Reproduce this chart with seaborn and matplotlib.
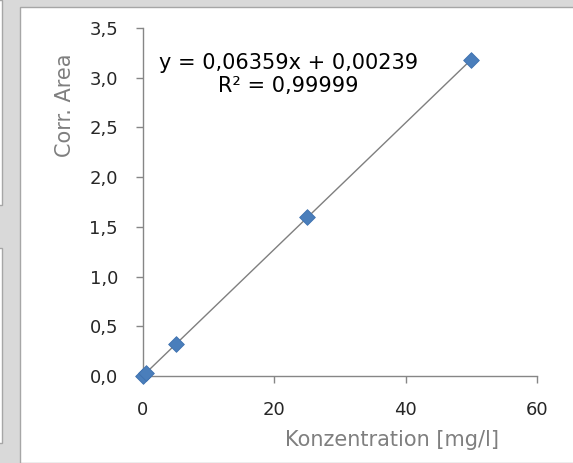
import matplotlib.pyplot as plt
import matplotlib.patches as mpatches
from matplotlib.ticker import FuncFormatter
import numpy as np
import pandas as pd
import seaborn as sns

# calibration data
konzentration = [0, 0.5, 5, 25, 50]
corr_area = [0.0, 0.034, 0.32, 1.60, 3.18]
equation = 'y = 0,06359x + 0,00239\nR² = 0,99999'
x_ticks = [0, 20, 40, 60]
y_ticks = [0.0, 0.5, 1.0, 1.5, 2.0, 2.5, 3.0, 3.5]

df = pd.DataFrame({'x': konzentration, 'y': corr_area})

sns.set_style('white')
plt.rcParams['font.family'] = ['DejaVu Sans']

W, H = 573, 463
fig = plt.figure(figsize=(W / 100, H / 100), dpi=100)
fig.patch.set_facecolor('#d9d9d9')

# chart area frame
fig.patches.append(mpatches.Rectangle((20 / W, 0), 1, (H - 7) / H, transform=fig.transFigure,
                                      facecolor='white', edgecolor='#a6a6a6', linewidth=1, zorder=-5))
# bits of the neighbouring panel on the left
fig.patches.append(mpatches.Rectangle((-0.01, 1 - 205 / H), 0.013, 205 / H, transform=fig.transFigure,
                                      facecolor='white', edgecolor='#a6a6a6', linewidth=1, zorder=-5))
fig.patches.append(mpatches.Rectangle((-0.01, 1 - 443 / H), 0.013, (443 - 248) / H, transform=fig.transFigure,
                                      facecolor='white', edgecolor='#a6a6a6', linewidth=1, zorder=-5))

ax = fig.add_axes([143 / W, 1 - 376 / H, (537 - 143) / W, (376 - 28) / H])
ax.set_zorder(2)
ax.set_facecolor('none')

sns.regplot(data=df, x='x', y='y', ax=ax, scatter=False, ci=None, truncate=True,
            line_kws={'color': '#7f7f7f', 'linewidth': 1.0})
sns.scatterplot(data=df, x='x', y='y', ax=ax, marker='D', s=64, color='#4a7ebb',
                edgecolor='#3f72b0', linewidth=0.6, zorder=3, clip_on=False)

ax.set_xlim(0, 60)
ax.set_ylim(0, 3.5)
ax.set_xticks(x_ticks)
ax.set_yticks(y_ticks)
ax.yaxis.set_major_formatter(FuncFormatter(lambda v, p: f'{v:.1f}'.replace('.', ',')))
ax.xaxis.set_major_formatter(FuncFormatter(lambda v, p: f'{v:.0f}'))
ax.tick_params(axis='both', direction='out', length=5, width=1, color='#868686',
               labelsize=13, labelcolor='#262626', pad=13, bottom=True, left=True)

for s in ['top', 'right']:
    ax.spines[s].set_visible(False)
for s in ['left', 'bottom']:
    ax.spines[s].set_color('#868686')
    ax.spines[s].set_linewidth(1)

ax.set_xlabel('')
ax.set_ylabel('')

ax.text(22.1, 3.03, equation, ha='center', va='center', multialignment='center',
        fontsize=15, color='#000000', linespacing=1.2)

fig.text(65 / W, 1 - 105 / H, 'Corr. Area', rotation=90, ha='center', va='center',
         fontsize=15, color='#7f7f7f')
fig.text(392 / W, 1 - 440 / H, 'Konzentration [mg/l]', ha='center', va='center',
         fontsize=15, color='#7f7f7f')

fig.savefig('out.png', dpi=100, facecolor=fig.get_facecolor())
